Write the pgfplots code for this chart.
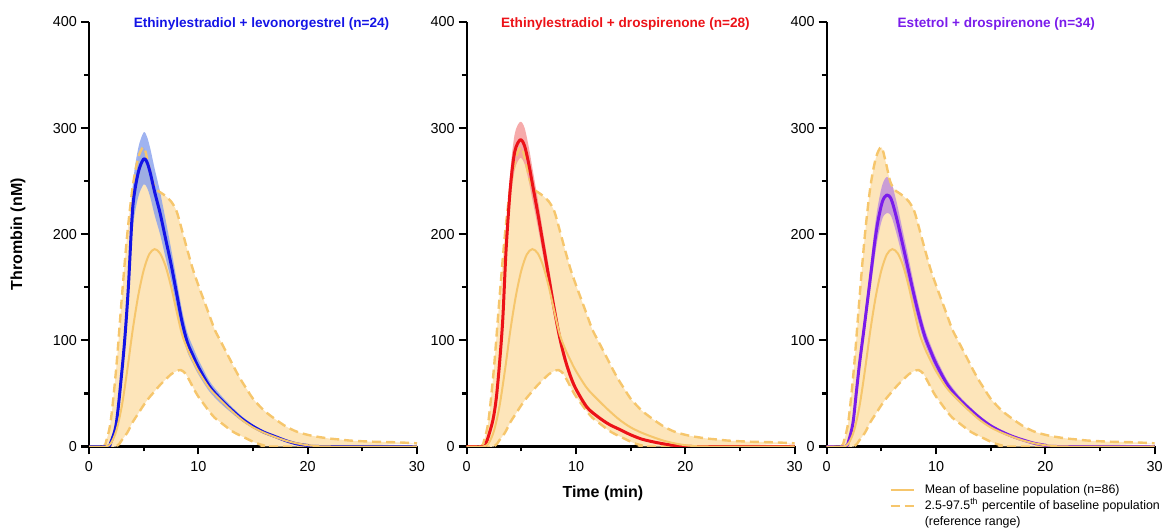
\documentclass[border=0pt]{standalone}
\usepackage{fontspec}
\setmainfont{Liberation Sans}
\usepackage{pgfplots}
\pgfplotsset{compat=1.18}
\usepackage{pgfplotstable}
\usepgfplotslibrary{fillbetween}

\definecolor{bfill}{RGB}{253,229,186}
\definecolor{bline}{RGB}{246,198,108}
\definecolor{cblue}{RGB}{20,20,230}
\definecolor{cbluefill}{RGB}{135,160,238}
\definecolor{cred}{RGB}{236,18,24}
\definecolor{credfill}{RGB}{244,150,150}
\definecolor{cpurple}{RGB}{122,28,235}
\definecolor{cpurplefill}{RGB}{188,140,222}

% baseline population (same in all three panels)
\pgfplotstableread{
t y
0 0
1.5 0
2.0 3
2.5 15
3.0 38
3.5 72
4.0 110
4.5 142
5.0 166
5.5 181
6.0 186
6.5 182
7.0 170
7.5 151
8.0 128
8.5 106
9.0 92
9.5 81
10 71
11 55
12 44
13 34
14 25
15 18
16 13
17 9
18 5.5
19 3
20 1.2
21 0.3
22 0
30 0
}\basemean

\pgfplotstableread{
t y
0 0
1.3 0
1.6 6
2.0 25
2.5 75
3.0 140
3.5 200
4.0 245
4.5 272
5.0 282
5.4 268
5.8 250
6.2 242
6.6 239
7.0 236
7.5 231
8.0 222
8.5 204
9.0 185
9.5 167
10 152
10.5 138
11 124
11.5 110
12 100
12.5 90
13 80
13.5 70
14 61
14.5 53
15 45
16 34
17 26
18 19
19 14
20 11
21 9
22 7.5
23 6.5
24 5.5
26 4.5
28 4
30 3
}\baseup

\pgfplotstableread{
t y
1.3 0
2.5 0
3.0 6
3.5 13
4.0 23
4.5 31
5.0 39
5.5 46
6.0 52
6.5 58
7.0 63
7.5 68
8.0 71
8.4 72
8.8 69
9.2 62
9.6 54
10 47
10.5 40
11 33
11.5 27
12 23
12.5 19
13 15
13.5 12
14 9.5
14.5 7
15 4.5
15.5 2.5
16 1
16.5 0
23 0
}\baselo

% Ethinylestradiol + levonorgestrel
\pgfplotstableread{
t mid lo hi
0 0 0 0
1.7 0 0 0
2.0 4 3.6 4.4
2.5 22 20 24
3.0 70 64 76
3.3 105 96 114
3.6 150 137 164
4.0 225 205 245
4.5 258 235 281
5.0 271 247 296
5.3 268 244 292
5.6 258 235 281
6.0 240 218 262
6.5 220 200 240
7.0 196 178 214
7.5 172 157 187
8.0 145 132 158
8.5 118 107 129
9.0 98 89 107
9.5 86 78 94
10 75 68 82
11 57 52 62
12 45 41 49
13 35 32 38
14 26 23.7 28.3
15 19 17.3 20.7
16 13.5 12.3 14.7
17 9.5 8.6 10.4
18 5.5 5 6
19 2.5 2.3 2.7
20 1 0.9 1.1
21 0 0 0
30 0 0 0
}\eelng

% Ethinylestradiol + drospirenone
\pgfplotstableread{
t mid lo hi
0 0 0 0
1.6 0 0 0
1.8 4 3.8 4.2
2.0 10 9.4 10.6
2.4 25 23.5 26.5
2.7 45 42.3 47.7
3.0 78 73.3 82.7
3.3 120 112.8 127.2
3.6 185 174 196
4.0 245 230 260
4.4 278 261 295
4.9 289 272 306
5.3 283 266 300
5.7 265 249 281
6.0 248 233 263
6.5 220 207 233
7.0 190 179 201
7.5 160 150 170
8.0 130 122 138
8.5 103 97 109
9.0 82 77 87
9.5 66 62 70
10 54 51 57
11 37 35 39
12 28 26.3 29.7
13 21 19.7 22.3
14 16 15 17
15 11 10.3 11.7
16 7 6.6 7.4
17 4.5 4.2 4.8
18 2.5 2.35 2.65
19 1 0.94 1.06
20 0.3 0.28 0.32
20.5 0 0 0
30 0 0 0
}\eedrsp

% Estetrol + drospirenone
\pgfplotstableread{
t mid lo hi
0 0 0 0
1.7 0 0 0
2.0 5 4.65 5.35
2.4 22 20.5 23.5
2.7 50 46.5 53.5
3.0 78 72.5 83.5
3.4 110 102 118
3.8 143 133 153
4.1 168 156 180
4.4 193 179 207
4.7 213 198 228
5.1 231 215 247
5.5 237 220 254
5.9 233 217 249
6.4 215 200 230
7.0 188 175 201
7.5 165 153 177
8.0 142 132 152
8.5 121 112.5 129.5
9.0 103 96 110
9.5 90 84 96
10 78 72.5 83.5
11 59 55 63
12 46 42.8 49.2
13 36 33.5 38.5
14 27 25.1 28.9
15 19.5 18.1 20.9
16 14 13 15
17 9.5 8.8 10.2
18 6 5.6 6.4
19 3 2.8 3.2
20 1.2 1.1 1.3
21 0 0 0
30 0 0 0
}\estdrsp

\pgfplotsset{
  panel/.style={
    scale only axis, width=164pt, height=212.25pt,
    anchor=south west,
    xmin=0, xmax=30, ymin=0, ymax=400,
    axis x line*=bottom, axis y line*=left,
    axis line style={line width=1.1pt, black},
    xtick={0,10,20,30}, ytick={0,100,200,300,400},
    minor xtick={5,15,25}, minor ytick={50,150,250,350},
    tick align=outside,
    every tick/.style={line width=1.1pt, black},
    major tick length=4pt, minor tick length=2.4pt,
    tick label style={font=\fontsize{7.2}{8}\selectfont},
    xticklabel style={inner sep=3.2pt},
    yticklabel style={inner sep=1.8pt},
    /pgf/number format/assume math mode=true,
    title style={font=\fontsize{6.8}{8}\selectfont\bfseries, anchor=center, yshift=-7pt},
  },
  dashedbase/.style={bline, line width=1.2pt, dash pattern=on 4.5pt off 2.5pt, smooth},
}

% orange reference range: fill and dashed limits
\newcommand{\baselinerange}{%
  \addplot[name path=up, draw=none, smooth] table {\baseup};
  \addplot[name path=lo, draw=none, smooth] table {\baselo};
  \addplot[fill=bfill, draw=none] fill between[of=up and lo];
  \addplot[dashedbase] table {\baseup};
  \addplot[dashedbase] table {\baselo};
}
\newcommand{\baselinemean}{%
  \addplot[bline, line width=1pt, smooth] table {\basemean};
}

\begin{document}
\begin{tikzpicture}

% panel 1
\begin{axis}[panel, at={(44.5pt,41.75pt)},
  title={Ethinylestradiol + levonorgestrel (n=24)},
  title style={at={(0.526,1)}, text=cblue},
  ylabel={Thrombin (nM)},
  ylabel style={at={(-0.2165,0.5)}, anchor=center, font=\fontsize{8}{9}\selectfont\bfseries},
]
\baselinerange
\addplot[name path=bh, draw=none, smooth] table[x=t, y=hi] {\eelng};
\addplot[name path=bl, draw=none, smooth] table[x=t, y=lo] {\eelng};
\addplot[fill=cbluefill, fill opacity=0.8, draw=none] fill between[of=bh and bl];
\addplot[cblue, line width=1.5pt, smooth, line join=round] table[x=t, y=mid] {\eelng};
\baselinemean
\end{axis}

% panel 2
\begin{axis}[panel, at={(233.35pt,41.75pt)},
  title={Ethinylestradiol + drospirenone (n=28)},
  title style={at={(0.484,1)}, text=cred},
  xlabel={Time (min)},
  xlabel style={at={(0.415,-0.1095)}, anchor=center, font=\fontsize{8}{9}\selectfont\bfseries},
]
\baselinerange
\addplot[name path=rh, draw=none, smooth] table[x=t, y=hi] {\eedrsp};
\addplot[name path=rl, draw=none, smooth] table[x=t, y=lo] {\eedrsp};
\addplot[fill=credfill, fill opacity=0.8, draw=none] fill between[of=rh and rl];
\addplot[cred, line width=1.5pt, smooth, line join=round] table[x=t, y=mid] {\eedrsp};
\baselinemean
\end{axis}

% panel 3
\begin{axis}[panel, at={(413.35pt,41.75pt)},
  title={Estetrol + drospirenone (n=34)},
  title style={at={(0.517,1)}, text=cpurple},
  legend style={at={(0.19,-0.0836)}, anchor=north west, draw=none, fill=none,
    inner sep=0pt, column sep=4pt,
    font=\fontsize{6.2}{7}\selectfont,
    nodes={inner sep=1pt, text height=4.6pt, text depth=1.3pt}},
  legend cell align=left,
  legend image code/.code={\draw[#1] (0pt,0pt) -- (11.5pt,0pt);},
]
\addlegendimage{bline, line width=1pt}
\addlegendentry{Mean of baseline population (n=86)}
\addlegendimage{bline, line width=1.2pt, dash pattern=on 4.5pt off 2.5pt}
\addlegendentry{2.5-97.5\textsuperscript{th} percentile of baseline population}
\addlegendimage{empty legend}
\addlegendentry{(reference range)}
\baselinerange
\addplot[name path=ph, draw=none, smooth] table[x=t, y=hi] {\estdrsp};
\addplot[name path=pl, draw=none, smooth] table[x=t, y=lo] {\estdrsp};
\addplot[fill=cpurplefill, fill opacity=0.8, draw=none] fill between[of=ph and pl];
\addplot[cpurple, line width=1.5pt, smooth, line join=round] table[x=t, y=mid] {\estdrsp};
\baselinemean
\end{axis}

\pgfresetboundingbox
\path[use as bounding box] (0,0) rectangle (584pt,265pt);
\end{tikzpicture}
\end{document}
